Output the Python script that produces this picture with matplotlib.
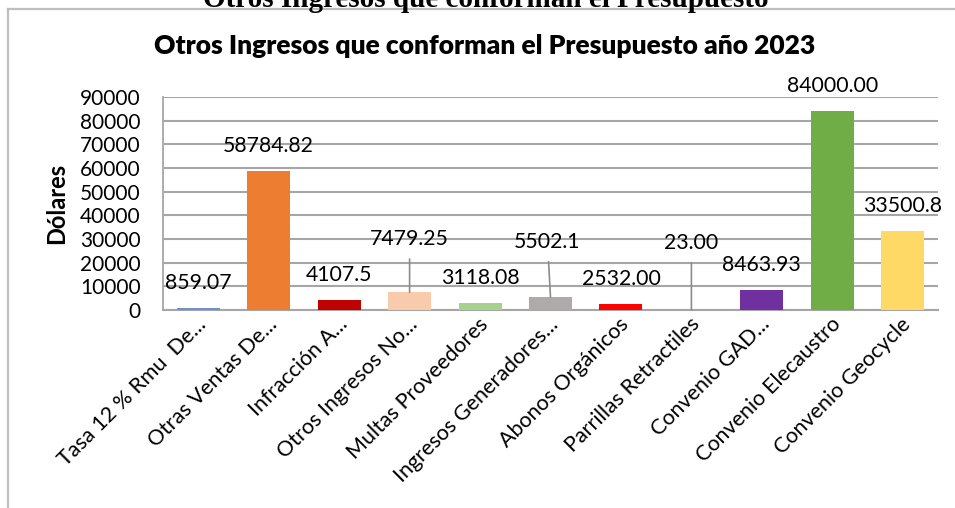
import numpy as np
import matplotlib.pyplot as plt
from matplotlib.lines import Line2D
from matplotlib.transforms import ScaledTranslation

plt.rcParams['font.family'] = ['Lato', 'DejaVu Sans']

categorias = ["Tasa 12 % Rmu  De...", "Otras Ventas De...", "Infracción A...",
              "Otros Ingresos No...", "Multas Proveedores", "Ingresos Generadores...",
              "Abonos Orgánicos", "Parrillas Retractiles", "Convenio GAD...",
              "Convenio Elecaustro", "Convenio Geocycle"]
valores = [859.07, 58784.82, 4107.5, 7479.25, 3118.08, 5502.1,
           2532.00, 23.00, 8463.93, 84000.00, 33500.8]
etiquetas = ["859.07", "58784.82", "4107.5", "7479.25", "3118.08", "5502.1",
             "2532.00", "23.00", "8463.93", "84000.00", "33500.8"]
colores = ["#6E8FD0", "#ED7D31", "#C00000", "#F8CBAD", "#A9D18E", "#AEAAAA",
           "#FF0000", "#5B9BD5", "#7030A0", "#70AD47", "#FFD966"]

W, H = 955, 508
fig = plt.figure(figsize=(W / 100, H / 100), dpi=100)
ax = fig.add_axes([163 / W, 1 - 310 / H, 775 / W, 213 / H])

x = np.arange(len(valores))
ax.bar(x, valores, width=0.61, color=colores, zorder=3)
ax.set_xlim(-0.5, len(valores) - 0.5)
ax.set_ylim(0, 90000)
ax.set_yticks(np.arange(0, 90001, 10000))
ax.grid(axis='y', color='#A6A6A6', linewidth=1.5, zorder=0)
for s in ['top', 'right']:
    ax.spines[s].set_visible(False)
ax.spines['left'].set_color('#A6A6A6')
ax.spines['bottom'].set_color('#A6A6A6')
ax.spines['left'].set_linewidth(1.3)
ax.spines['bottom'].set_linewidth(1.5)
ax.tick_params(axis='y', length=0, pad=16, labelsize=15)
ax.tick_params(axis='x', length=0, pad=8, labelsize=15.5)

ax.set_xticks(x)
ax.set_xticklabels(categorias, rotation=45, ha='right', va='center',
                   rotation_mode='anchor')
for lab in ax.get_xticklabels():
    lab.set_transform(lab.get_transform() + ScaledTranslation(0.05, 0, fig.dpi_scale_trans))

ax.set_ylabel("Dólares", fontsize=17, fontweight='bold', va='center')
ax.yaxis.set_label_coords(-0.1368, 0.502)

# etiquetas de datos (desplazamientos en píxeles)
px = 72 / 100
desplaz = {3: (0, 53), 5: (-3, 55), 7: (0, 67)}
for i, (v, t) in enumerate(zip(valores, etiquetas)):
    dx, dy = desplaz.get(i, (0, 25))
    if i in desplaz:
        ax.annotate(t, (i, v), xytext=(dx * px, dy * px), textcoords='offset points',
                    ha='center', va='center', fontsize=15.3, zorder=5,
                    arrowprops=dict(arrowstyle='-', color='#8C8C8C', lw=1.2,
                                    shrinkA=5, shrinkB=0))
    else:
        ax.annotate(t, (i, v), xytext=(dx * px, dy * px), textcoords='offset points',
                    ha='center', va='center', fontsize=15.3, zorder=5)

fig.text(485 / W, 1 - 46 / H, "Otros Ingresos que conforman el Presupuesto año 2023",
         ha='center', va='center', fontsize=19, fontweight='heavy')

# título cortado superior y marco del gráfico
fig.text(486 / W, 1 - 7 / H, "Otros Ingresos que conforman el Presupuesto",
         ha='center', va='baseline', fontsize=21, fontweight='bold',
         family=['Liberation Serif', 'DejaVu Serif'])
fig.add_artist(Line2D([8 / W, 8 / W], [0, 1 - 9 / H], color='#BFBFBF', lw=1.6,
                      transform=fig.transFigure))
fig.add_artist(Line2D([8 / W, 1], [1 - 9 / H, 1 - 9 / H], color='#BFBFBF', lw=1.6,
                      transform=fig.transFigure))

fig.savefig("out.png", dpi=100)
